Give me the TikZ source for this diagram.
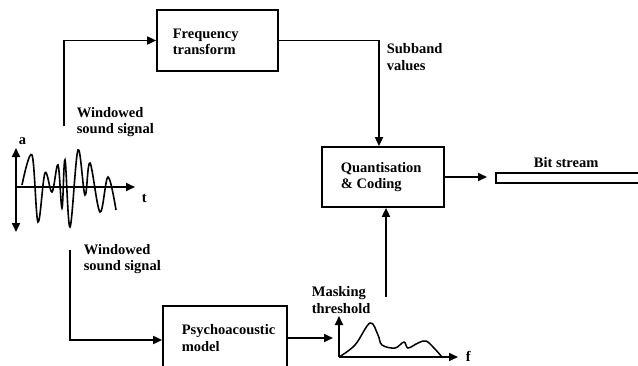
\documentclass[tikz,border=0pt]{standalone}
\usepackage{fontspec}
\setmainfont{Liberation Serif}
\usetikzlibrary{arrows.meta,calc}
\begin{document}
\begin{tikzpicture}[x=1pt,y=-1pt, line width=1.7pt,
  blk/.style={draw, line width=2pt},
  arr/.style={-{Triangle[length=9pt,width=8pt]}},
  lbl/.style={font=\fontsize{14.5}{16.5}\selectfont\bfseries, align=left, inner sep=0pt, anchor=west},
]
\useasboundingbox (0,0) rectangle (638,365);
% boxes
\path[blk] (157,10) rectangle (278,71);
\node[inner sep=0pt, minimum width=121pt, minimum height=61pt] (freq) at (217.5,40.5) {};
\path[blk] (322,147) rectangle (444,207);
\node[inner sep=0pt, minimum width=122pt, minimum height=60pt] (quant) at (383,177) {};
\draw[line width=2pt] (163,374) -- (163,306) -- (287,306) -- (287,374);
\node[inner sep=0pt, minimum width=124pt, minimum height=68pt] (psy) at (225,340) {};
\draw[line width=1.7pt] (496,173) rectangle (650,183);
\node[inner sep=0pt, minimum width=154pt, minimum height=10pt] (bar) at (573,178) {};
% texts
\node[lbl] (tfreq) at (172,42) {Frequency\\transform};
\node[lbl] (tquant) at (340,177) {Quantisation\\\& Coding};
\node[lbl] (tpsy) at (181,338) {Psychoacoustic\\model};
\node[lbl] (tsub) at (386,57) {Subband\\values};
\node[lbl] (tw1) at (76,122) {Windowed\\sound signal};
\node[lbl] (tw2) at (83,259) {Windowed\\sound signal};
\node[lbl] (tmask) at (311,300) {Masking\\threshold};
\node[lbl] (tbit) at (533,163) {Bit stream};
\node[lbl] (ta) at (18,141) {a};
\node[lbl] (tt) at (141,198) {t};
\node[lbl] (tf) at (465,356) {f};
% wave plot
\coordinate (wo) at (16,187);
\coordinate (wup) at (16,148);
\coordinate (wdn) at (16,232);
\coordinate (wt) at (135,187);
\draw[arr] (wo) -- (wup);
\draw[arr] (wo) -- (wdn);
\draw[arr] (wo) -- (wt);
\draw[line width=1.6pt] plot[smooth, tension=0.6] coordinates {(22,185) (32,155) (38,222) (45,173) (52,192) (58,165) (62,208) (65,160) (70,227) (78,150) (85,195) (90,163) (100,212) (108,177) (116,210)};
% masking graph
\coordinate (go) at (339,357);
\coordinate (gup) at (339,316);
\coordinate (gr) at (458,357);
\draw[arr] (go) -- (gup);
\draw[arr] (go) -- (gr);
\draw[line width=1.5pt] plot[smooth, tension=0.6] coordinates {(339,357) (355,345) (370,323) (378,335) (382,345) (395,348) (404,342) (408,348) (418,343) (426,341) (434,348) (442,357)};
% connectors
\coordinate (w1) at (64,126);
\coordinate (w2) at (70,250);
\coordinate (g0) at (333,338);
\coordinate (qb) at (386,297);
\coordinate (bitin) at (487,177);
\draw[arr] (w1) |- (freq.west);
\draw[arr] (freq.east) -| ([xshift=-4pt]quant.north);
\draw[arr] (w2) |- (psy.west);
\draw[arr] ([yshift=2pt]psy.east) -- (g0);
\draw[arr] (qb) -- ([xshift=3pt]quant.south);
\draw[arr] (quant.east) -- (bitin);
\end{tikzpicture}
\end{document}
